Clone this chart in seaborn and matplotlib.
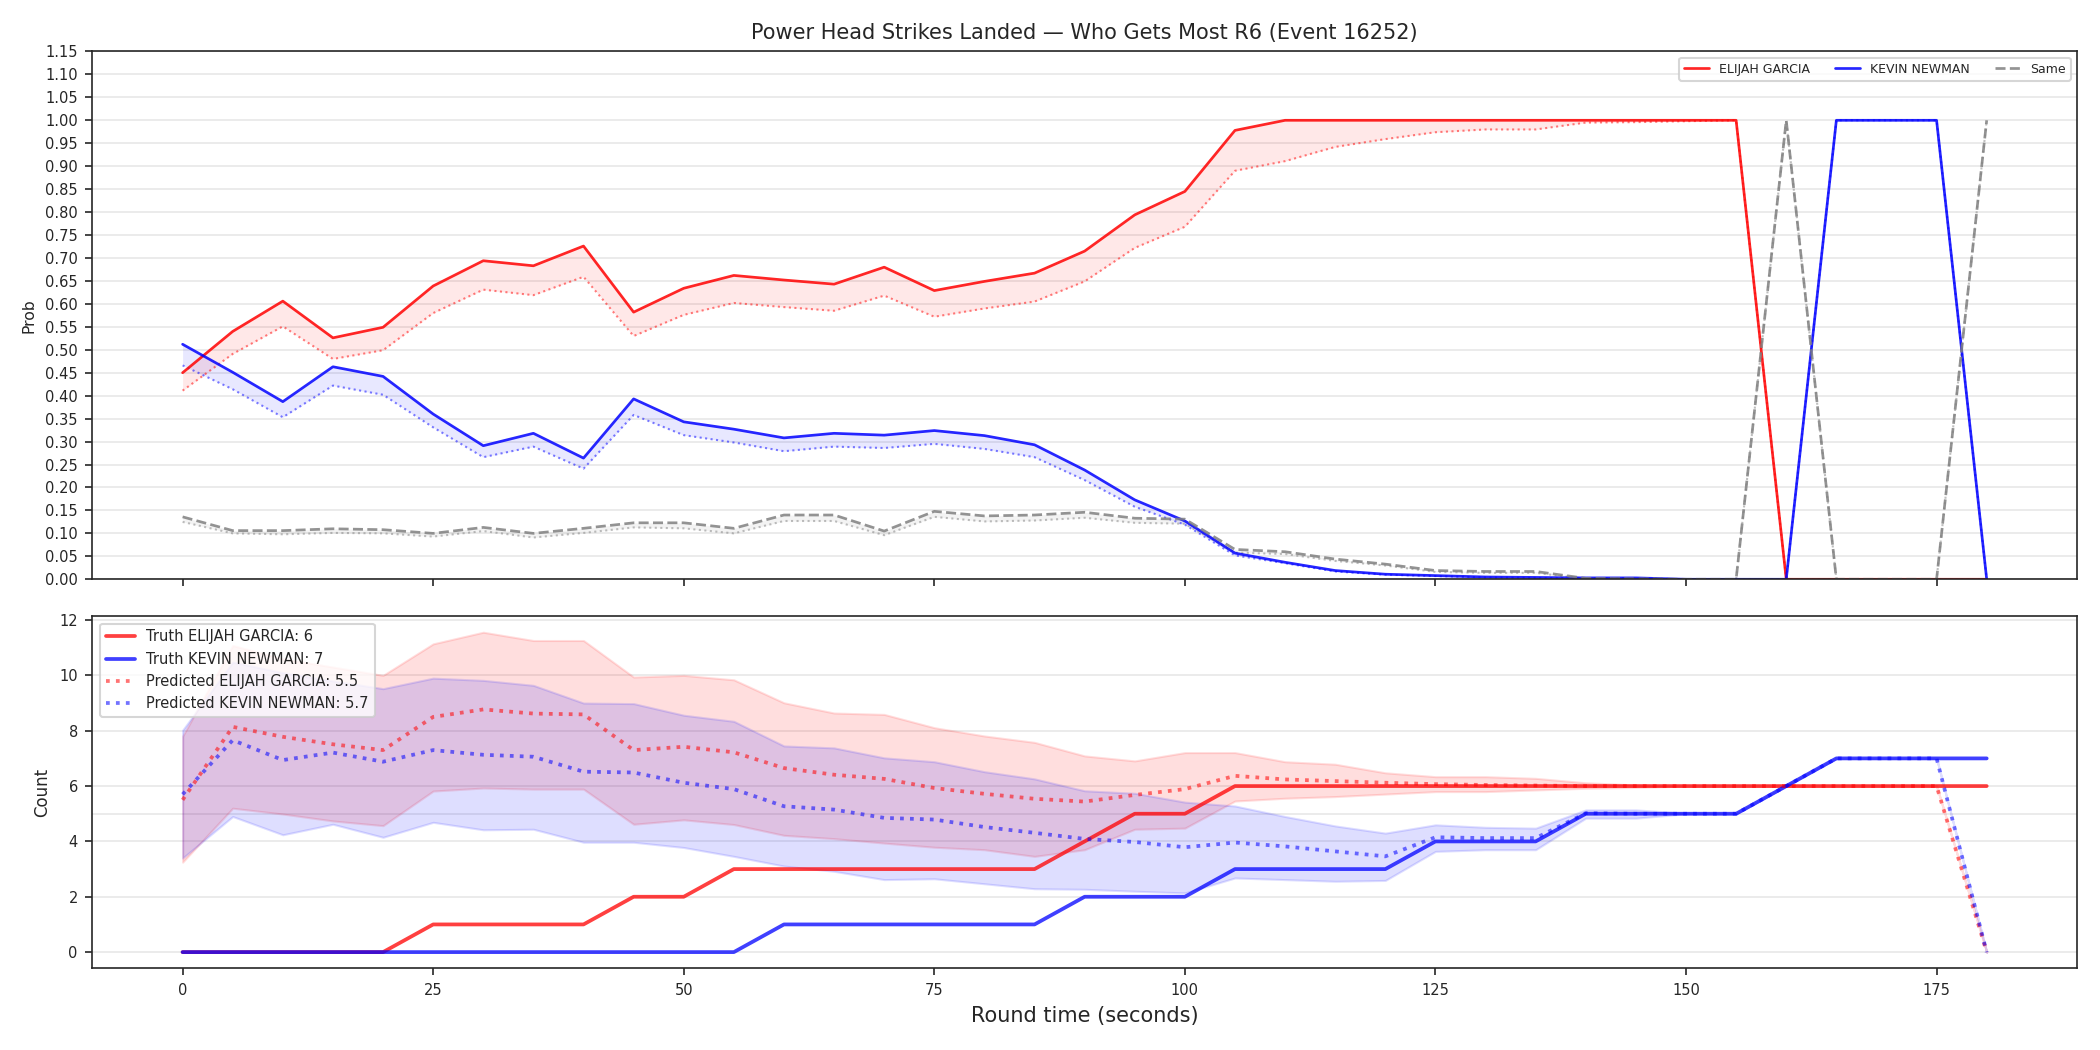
import numpy as np
import pandas as pd
import matplotlib
matplotlib.use("Agg")
import matplotlib.pyplot as plt
import seaborn as sns

# ---------------- data ----------------
times = [0, 5, 10, 15, 20, 25, 30, 35, 40, 45, 50, 55, 60, 65, 70, 75, 80, 85, 90,
         95, 100, 105, 110, 115, 120, 125, 130, 135, 140, 145, 150, 155, 160, 165,
         170, 175, 180]

prob_elijah = [0.45, 0.54, 0.606, 0.526, 0.549, 0.639, 0.694, 0.683, 0.726, 0.582, 0.634,
               0.662, 0.652, 0.643, 0.680, 0.629, 0.649, 0.667, 0.715, 0.794, 0.845, 0.978,
               1.0, 1.0, 1.0, 1.0, 1.0, 1.0, 1.0, 1.0, 1.0, 1.0,
               0.0, 0.0, 0.0, 0.0, 0.0]
pred_prob_elijah = [0.411, 0.491, 0.551, 0.480, 0.499, 0.580, 0.631, 0.619, 0.659, 0.530, 0.576,
                    0.602, 0.593, 0.585, 0.618, 0.572, 0.590, 0.605, 0.649, 0.722, 0.768, 0.890,
                    0.911, 0.942, 0.959, 0.974, 0.980, 0.980, 0.995, 0.996, 0.998, 1.0,
                    0.0, 0.0, 0.0, 0.0, 0.0]
prob_kevin = [0.512, 0.451, 0.387, 0.463, 0.442, 0.360, 0.291, 0.318, 0.264, 0.393, 0.343,
              0.327, 0.308, 0.318, 0.314, 0.324, 0.313, 0.293, 0.238, 0.173, 0.127, 0.057,
              0.037, 0.019, 0.011, 0.008, 0.005, 0.004, 0.003, 0.003, 0.0, 0.0,
              0.0, 1.0, 1.0, 1.0, 0.0]
pred_prob_kevin = [0.466, 0.414, 0.353, 0.422, 0.402, 0.331, 0.266, 0.289, 0.241, 0.358, 0.314,
                   0.298, 0.279, 0.289, 0.286, 0.295, 0.284, 0.266, 0.216, 0.158, 0.119, 0.052,
                   0.035, 0.017, 0.010, 0.007, 0.004, 0.003, 0.002, 0.002, 0.0, 0.0,
                   0.0, 1.0, 1.0, 1.0, 0.0]
prob_same = [0.136, 0.106, 0.106, 0.110, 0.108, 0.100, 0.113, 0.100, 0.111, 0.123, 0.123,
             0.111, 0.140, 0.140, 0.105, 0.148, 0.138, 0.140, 0.146, 0.133, 0.131, 0.065,
             0.060, 0.044, 0.033, 0.019, 0.017, 0.017, 0.002, 0.001, 0.0, 0.0,
             1.0, 0.0, 0.0, 0.0, 1.0]
pred_prob_same = [0.125, 0.100, 0.098, 0.101, 0.100, 0.093, 0.105, 0.091, 0.101, 0.113, 0.111,
                  0.100, 0.127, 0.127, 0.096, 0.136, 0.126, 0.128, 0.134, 0.123, 0.121, 0.058,
                  0.055, 0.040, 0.030, 0.016, 0.014, 0.014, 0.001, 0.0, 0.0, 0.0,
                  1.0, 0.0, 0.0, 0.0, 1.0]

truth_elijah = [0, 0, 0, 0, 0, 1, 1, 1, 1, 2, 2, 3, 3, 3, 3, 3, 3, 3, 4, 5, 5, 6,
                6, 6, 6, 6, 6, 6, 6, 6, 6, 6, 6, 6, 6, 6, 6]
truth_kevin = [0, 0, 0, 0, 0, 0, 0, 0, 0, 0, 0, 0, 1, 1, 1, 1, 1, 1, 2, 2, 2, 3,
               3, 3, 3, 4, 4, 4, 5, 5, 5, 5, 6, 7, 7, 7, 7]
pred_elijah = [5.5, 8.14, 7.78, 7.51, 7.30, 8.50, 8.77, 8.62, 8.59, 7.30, 7.42,
               7.22, 6.65, 6.41, 6.26, 5.93, 5.72, 5.54, 5.44, 5.68, 5.89, 6.37,
               6.24, 6.18, 6.12, 6.07, 6.04, 6.02, 6.0, 6.0, 6.0, 6.0,
               6, 6, 6, 6, 0]
pred_kevin = [5.7, 7.66, 6.94, 7.21, 6.88, 7.30, 7.13, 7.06, 6.52, 6.49, 6.12,
              5.89, 5.27, 5.15, 4.85, 4.79, 4.52, 4.31, 4.09, 3.98, 3.79, 3.96,
              3.82, 3.64, 3.46, 4.15, 4.12, 4.12, 5.02, 5.0, 5.0, 5.0,
              6, 7, 7, 7, 0]
hi_elijah = [7.8, 11.08, 10.6, 10.3, 10.0, 11.14, 11.56, 11.26, 11.26, 9.94, 10.0,
             9.84, 9.01, 8.64, 8.59, 8.11, 7.81, 7.58, 7.09, 6.91, 7.21, 7.21,
             6.88, 6.79, 6.48, 6.34, 6.34, 6.28, 6.12, 6.04, 6.0, 6.0,
             6, 6, 6, 6, 0]
lo_elijah = [3.25, 5.2, 4.99, 4.74, 4.57, 5.82, 5.93, 5.89, 5.89, 4.62, 4.78,
             4.61, 4.22, 4.10, 3.94, 3.79, 3.70, 3.46, 3.70, 4.44, 4.48, 5.46,
             5.56, 5.62, 5.71, 5.80, 5.80, 5.86, 5.92, 5.95, 6.0, 6.0,
             6, 6, 6, 6, 0]
hi_kevin = [8.02, 10.48, 10.1, 9.8, 9.52, 9.90, 9.82, 9.64, 9.0, 8.98, 8.56,
            8.34, 7.45, 7.38, 7.02, 6.88, 6.52, 6.26, 5.83, 5.74, 5.42, 5.28,
            4.90, 4.56, 4.30, 4.60, 4.51, 4.48, 5.14, 5.14, 5.02, 5.0,
            6, 7, 7, 7, 0]
lo_kevin = [3.4, 4.90, 4.24, 4.62, 4.15, 4.69, 4.42, 4.44, 3.97, 3.97, 3.78,
            3.46, 3.11, 2.92, 2.62, 2.65, 2.47, 2.29, 2.27, 2.2, 2.14, 2.68,
            2.62, 2.56, 2.59, 3.64, 3.70, 3.70, 4.84, 4.84, 5.0, 5.0,
            6, 7, 7, 7, 0]

name_a = "ELIJAH GARCIA"
name_b = "KEVIN NEWMAN"
final_a = 6
final_b = 7
pred0_a = 5.5
pred0_b = 5.7

df = pd.DataFrame(dict(t=times, pa=prob_elijah, ppa=pred_prob_elijah, pb=prob_kevin,
                       ppb=pred_prob_kevin, ps=prob_same, pps=pred_prob_same,
                       ta=truth_elijah, tb=truth_kevin, ca=pred_elijah, cb=pred_kevin,
                       ha=hi_elijah, la=lo_elijah, hb=hi_kevin, lb=lo_kevin))

# ---------------- figure ----------------
sns.set_style("ticks")
plt.rcParams['font.family'] = ['DejaVu Sans']

fig, (ax1, ax2) = plt.subplots(2, 1, figsize=(14, 7), dpi=150, sharex=True,
                               gridspec_kw=dict(height_ratios=[3, 2]))
fig.subplots_adjust(left=0.044, right=0.989, top=0.951, bottom=0.078, hspace=0.084)

RED = "#ff0000"
BLUE = "#0000ff"
GRAY = "#808080"

# top panel
ax1.fill_between(df.t, df.ppa, df.pa, color=RED, alpha=0.09, lw=0)
ax1.fill_between(df.t, df.ppb, df.pb, color=BLUE, alpha=0.09, lw=0)
ax1.fill_between(df.t, df.pps, df.ps, color=GRAY, alpha=0.09, lw=0)
sns.lineplot(data=df, x="t", y="ppa", ax=ax1, color=RED, lw=1.0, alpha=0.5, linestyle=":")
sns.lineplot(data=df, x="t", y="ppb", ax=ax1, color=BLUE, lw=1.0, alpha=0.5, linestyle=":")
sns.lineplot(data=df, x="t", y="pps", ax=ax1, color=GRAY, lw=1.0, alpha=0.5, linestyle=":")
sns.lineplot(data=df, x="t", y="pa", ax=ax1, color=RED, lw=1.3, alpha=0.85, label=name_a)
sns.lineplot(data=df, x="t", y="pb", ax=ax1, color=BLUE, lw=1.3, alpha=0.85, label=name_b)
sns.lineplot(data=df, x="t", y="ps", ax=ax1, color=GRAY, lw=1.3, alpha=0.85,
             linestyle="--", label="Same")
ax1.set_ylim(0, 1.15)
ax1.set_yticks(np.arange(0, 1.151, 0.05))
ax1.set_yticklabels([f"{v:.2f}" for v in np.arange(0, 1.151, 0.05)])
ax1.grid(axis="y", color="#e8e8e8", lw=0.8)
ax1.set_axisbelow(True)
ax1.set_ylabel("Prob", fontsize=7.5)
ax1.set_xlabel("")
ax1.tick_params(labelsize=7)
ax1.set_title("Power Head Strikes Landed — Who Gets Most R6 (Event 16252)", fontsize=10)
ax1.legend(loc="upper right", ncol=3, fontsize=6, frameon=True)

# bottom panel
ax2.fill_between(df.t, df.la, df.ha, color=RED, alpha=0.13, lw=1, edgecolor=RED)
ax2.fill_between(df.t, df.lb, df.hb, color=BLUE, alpha=0.13, lw=1, edgecolor=BLUE)
sns.lineplot(data=df, x="t", y="ta", ax=ax2, color=RED, lw=1.8, alpha=0.75,
             label=f"Truth {name_a}: {final_a}")
sns.lineplot(data=df, x="t", y="tb", ax=ax2, color=BLUE, lw=1.8, alpha=0.75,
             label=f"Truth {name_b}: {final_b}")
sns.lineplot(data=df, x="t", y="ca", ax=ax2, color=RED, lw=1.8, alpha=0.55, linestyle=":",
             label=f"Predicted {name_a}: {pred0_a}")
sns.lineplot(data=df, x="t", y="cb", ax=ax2, color=BLUE, lw=1.8, alpha=0.55, linestyle=":",
             label=f"Predicted {name_b}: {pred0_b}")
ax2.axhline(5, color="#e8e8e8", lw=0.8, zorder=0)
ax2.grid(axis="y", color="#e8e8e8", lw=0.8)
ax2.set_axisbelow(True)
ax2.set_yticks([0, 2, 4, 6, 8, 10, 12])
ax2.set_xticks([0, 25, 50, 75, 100, 125, 150, 175])
ax2.set_ylabel("Count", fontsize=8)
ax2.set_xlabel("Round time (seconds)", fontsize=10)
ax2.tick_params(labelsize=7)
ax2.legend(loc="upper left", fontsize=7, frameon=True)

fig.savefig("out.png", dpi=150)
